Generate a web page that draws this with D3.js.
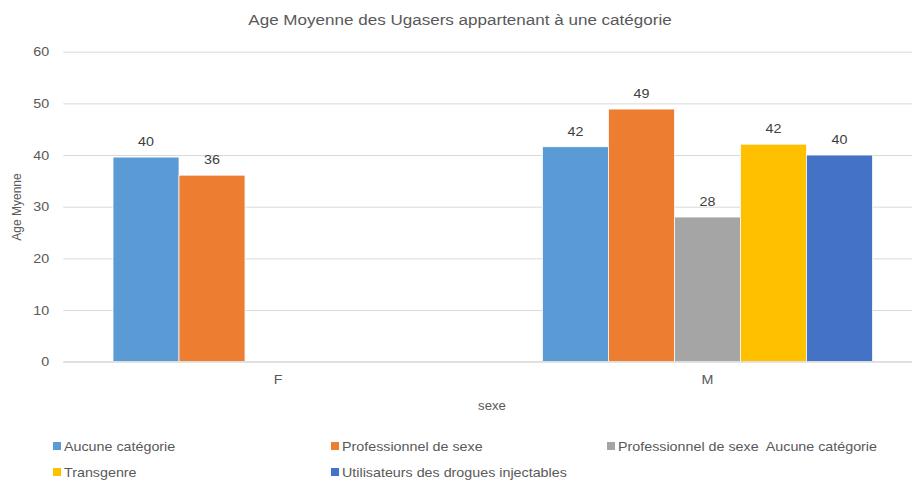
<!DOCTYPE html>
<html><head><meta charset="utf-8">
<script src="https://cdn.jsdelivr.net/npm/d3@7"></script>
<style>body{margin:0;background:#fff}svg{display:block;font-family:"Liberation Sans",Arial,sans-serif}</style>
</head><body><svg id="c" width="912" height="480"></svg>
<script>
const categories = ["F", "M"];
const seriesNames = ["Aucune catégorie", "Professionnel de sexe", "Professionnel de sexe  Aucune catégorie", "Transgenre", "Utilisateurs des drogues injectables"];
const seriesColors = ["#5B9BD5", "#ED7D31", "#A5A5A5", "#FFC000", "#4472C4"];
const aucune = [39.6, 41.6];
const professionnel = [36.1, 48.9];
const profAucune = [null, 28.0];
const transgenre = [null, 42.1];
const udi = [null, 40.0];
const yTicks = [0, 10, 20, 30, 40, 50, 60];
const seriesValues = [aucune, professionnel, profAucune, transgenre, udi];

const SX = 1.1;
const svg = d3.select("#c");
function stext(parent, x, y, txt, size, fill, anchor) {
  return parent.append("text").attr("transform", `translate(${x},${y}) scale(${SX},1)`)
    .attr("text-anchor", anchor || "start").attr("font-size", size).attr("fill", fill)
    .style("white-space", "pre").text(txt);
}

const pLeft = 63.25, pRight = 922.25, pTop = 51.7, pBottom = 361.7;
const y = d3.scaleLinear().domain([0, 60]).range([pBottom, pTop]);
const x0 = d3.scaleBand().domain(categories).range([pLeft, pRight]).paddingInner(0).paddingOuter(0);
const x1 = d3.scaleBand().domain(d3.range(seriesNames.length)).range([0, x0.bandwidth()]).paddingOuter(0.754).paddingInner(0);

// title
stext(svg, 460, 25, "Age Moyenne des Ugasers appartenant à une catégorie", 15.5, "#595959", "middle");

// grid
const yAxis = d3.axisLeft(y).tickValues(yTicks).tickSize(-(pRight - pLeft)).tickPadding(14);
const ga = svg.append("g").attr("transform", `translate(${pLeft},0)`).call(yAxis);
ga.select(".domain").remove();
ga.selectAll(".tick line").attr("stroke", "#D9D9D9").attr("stroke-width", 1);
ga.selectAll(".tick text").attr("fill", "#595959").attr("font-size", 13)
  .attr("font-family", "Liberation Sans, Arial, sans-serif")
  .attr("x", null).attr("transform", `translate(-14,0) scale(${SX},1)`);

// bars
const groups = svg.append("g").selectAll("g").data(categories).join("g")
  .attr("transform", d => `translate(${x0(d)},0)`);
seriesValues.forEach((vals, si) => {
  groups.each(function(cat, ci) {
    const v = vals[ci];
    if (v == null) return;
    const g = d3.select(this);
    g.append("rect").attr("x", x1(si)).attr("width", x1.bandwidth())
      .attr("y", y(v)).attr("height", y(0) - y(v))
      .attr("fill", seriesColors[si]).attr("stroke", "#fff").attr("stroke-width", 0.75);
    stext(g, x1(si) + x1.bandwidth() / 2, y(v) - 11, d3.format(".0f")(v), 13, "#404040", "middle");
  });
});

// baseline
svg.append("line").attr("x1", pLeft).attr("x2", pRight).attr("y1", y(0)).attr("y2", y(0))
  .attr("stroke", "#D9D9D9").attr("stroke-width", 1);

// x labels
const xAxis = d3.axisBottom(x0).tickSize(0).tickPadding(13);
const gx = svg.append("g").attr("transform", `translate(0,${pBottom})`).call(xAxis);
gx.select(".domain").remove();
gx.selectAll(".tick text").attr("fill", "#595959").attr("font-size", 13)
  .attr("font-family", "Liberation Sans, Arial, sans-serif")
  .attr("y", null).attr("transform", `translate(0,13) scale(${SX},1)`);

// axis titles
stext(svg, 492, 410, "sexe", 12, "#595959", "middle");
svg.append("text").attr("transform", "translate(21,207) rotate(-90)").attr("text-anchor", "middle")
  .attr("font-size", 12).attr("fill", "#595959").text("Age Myenne");

// legend
const legendPos = [[53, 446], [331, 446], [607, 446], [53, 472], [331, 472]];
seriesNames.forEach((n, i) => {
  const [lx, ly] = legendPos[i];
  svg.append("rect").attr("x", lx).attr("y", ly - 4).attr("width", 8).attr("height", 8).attr("fill", seriesColors[i]);
  stext(svg, lx + 11, ly + 4.5, n, 13, "#595959", "start");
});
</script></body></html>
